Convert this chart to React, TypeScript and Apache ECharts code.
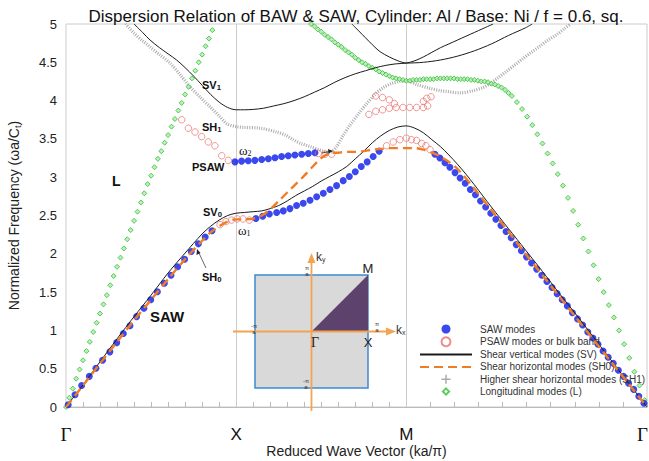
import React, { useEffect, useRef } from 'react';
import * as echarts from 'echarts';

const SQ2 = Math.SQRT2;
const K_END = 2 + SQ2;
const SANS = 'Liberation Sans, Arial, Helvetica, sans-serif';
const SERIF = 'Liberation Serif, DejaVu Serif, Times New Roman, serif';

// high-symmetry points along the path Γ-X-M-Γ
const pathLabels = ['Γ', 'X', 'M', 'Γ'];
const pathPositions = [0, 1, 2, K_END];
const tickPositions: number[] = [];
for (let i = 0; i <= 10; i++) tickPositions.push(i / 10);
for (let i = 1; i <= 10; i++) tickPositions.push(1 + i / 10);
for (let i = 1; i <= 10; i++) tickPositions.push(2 + (i * SQ2) / 10);

// ---- SAW modes (blue dots) ----
const sawLow: [number, number][] = [
  [0.013, 0.03], [0.053, 0.16], [0.092, 0.28], [0.137, 0.4], [0.176, 0.505], [0.215, 0.61],
  [0.258, 0.72], [0.298, 0.84], [0.337, 0.96], [0.376, 1.06], [0.415, 1.18], [0.458, 1.29],
  [0.498, 1.4], [0.537, 1.505], [0.578, 1.615], [0.617, 1.72], [0.656, 1.83], [0.697, 1.93],
  [0.736, 2.03], [0.778, 2.13], [0.818, 2.22], [0.858, 2.3],
];
const sawXM: [number, number][] = [
  [1.116, 2.46], [1.156, 2.49], [1.195, 2.52], [1.238, 2.54], [1.277, 2.56], [1.316, 2.59],
  [1.355, 2.63], [1.394, 2.66], [1.434, 2.7], [1.473, 2.745], [1.512, 2.79], [1.551, 2.84],
  [1.59, 2.89], [1.629, 2.955], [1.665, 3.01], [1.7, 3.07], [1.735, 3.14], [1.77, 3.2],
  [1.805, 3.27], [1.84, 3.34],
];
const sawOmega2: [number, number][] = [
  [0.993, 3.2], [1.032, 3.21], [1.071, 3.215], [1.11, 3.22], [1.15, 3.23], [1.189, 3.24],
  [1.228, 3.255], [1.267, 3.27], [1.306, 3.28], [1.345, 3.29], [1.385, 3.3], [1.424, 3.31],
  [1.463, 3.32],
];
const sawMG: [number, number][] = [
  [2.168, 3.3], [2.197, 3.25], [2.227, 3.19], [2.256, 3.13], [2.286, 3.06], [2.316, 2.99],
  [2.346, 2.92], [2.376, 2.84], [2.406, 2.77], [2.436, 2.69], [2.466, 2.61], [2.496, 2.53],
  [2.526, 2.45], [2.556, 2.37], [2.586, 2.29], [2.616, 2.21], [2.646, 2.12], [2.676, 2.04],
  [2.706, 1.96], [2.736, 1.88], [2.766, 1.8], [2.796, 1.72], [2.826, 1.64], [2.856, 1.56],
  [2.886, 1.48], [2.916, 1.4], [2.946, 1.32], [2.976, 1.23], [3.006, 1.15], [3.036, 1.07],
  [3.066, 0.98], [3.096, 0.9], [3.126, 0.82], [3.156, 0.73], [3.186, 0.65], [3.216, 0.57],
  [3.246, 0.48], [3.276, 0.4], [3.306, 0.31], [3.336, 0.23], [3.366, 0.14], [3.396, 0.05],
];

// ---- PSAW modes or bulk band (red rings) ----
const psawNearX: [number, number][] = [
  [0.905, 2.38], [0.94, 2.42], [0.973, 2.44], [1.006, 2.455], [1.04, 2.455], [1.077, 2.44],
];
const psawUpperLeft: [number, number][] = [
  [0.68, 3.75], [0.719, 3.64], [0.758, 3.59], [0.797, 3.53], [0.836, 3.46], [0.875, 3.41],
  [0.915, 3.28], [0.954, 3.22],
];
const psawOmega2End: [number, number][] = [[1.483, 3.31], [1.522, 3.3], [1.561, 3.3]];
const psawNearM: [number, number][] = [
  [1.884, 3.41], [1.923, 3.46], [1.962, 3.49], [2.0, 3.51], [2.03, 3.49], [2.06, 3.48],
  [2.09, 3.44], [2.115, 3.41], [2.139, 3.36],
];
const psawUpperM: [number, number][] = [
  [1.78, 3.82], [1.82, 3.86], [1.86, 3.88], [1.9, 3.9], [1.94, 3.91], [1.98, 3.91],
  [2.02, 3.91], [2.06, 3.91], [2.1, 3.91], [2.125, 3.93], [1.82, 4.06], [1.86, 4.04],
  [1.9, 4.01], [1.93, 3.96], [2.1, 3.99], [2.12, 4.03], [2.145, 4.05],
];

// ---- Shear vertical modes (black lines) ----
const sv0: [number, number][] = [
  [0, 0], [0.1, 0.29], [0.2, 0.59], [0.3, 0.89], [0.4, 1.18], [0.5, 1.46], [0.6, 1.75],
  [0.7, 2.01], [0.8, 2.26], [0.85, 2.36], [0.9, 2.44], [0.95, 2.5], [1.0, 2.53], [1.05, 2.54],
  [1.1, 2.55], [1.15, 2.56], [1.2, 2.59], [1.25, 2.63], [1.3, 2.69], [1.35, 2.76], [1.4, 2.82],
  [1.45, 2.88], [1.5, 2.95], [1.55, 3.01], [1.6, 3.07], [1.65, 3.14], [1.7, 3.24], [1.75, 3.34],
  [1.8, 3.45], [1.85, 3.54], [1.9, 3.61], [1.95, 3.655], [2.0, 3.67], [2.05, 3.64], [2.1, 3.58],
  [2.15, 3.49], [2.2, 3.4], [2.25, 3.29], [2.3, 3.17], [2.35, 3.04], [2.4, 2.9], [2.5, 2.61],
  [2.6, 2.33], [2.7, 2.05], [2.8, 1.77], [2.9, 1.48], [3.0, 1.2], [3.1, 0.91], [3.2, 0.62],
  [3.3, 0.33], [K_END, 0],
];
const sv1: [number, number][] = [
  [0.4, 5.0], [0.45, 4.89], [0.494, 4.79], [0.55, 4.69], [0.6, 4.61], [0.65, 4.53], [0.7, 4.43],
  [0.75, 4.32], [0.8, 4.2], [0.85, 4.08], [0.9, 3.98], [0.95, 3.91], [1.0, 3.88], [1.05, 3.88],
  [1.1, 3.885], [1.16, 3.9], [1.22, 3.93], [1.28, 3.96], [1.34, 4.0], [1.4, 4.05], [1.46, 4.11],
  [1.52, 4.17], [1.58, 4.24], [1.64, 4.3], [1.7, 4.35], [1.76, 4.39], [1.82, 4.43], [1.88, 4.46],
  [1.94, 4.48], [2.0, 4.49], [2.05, 4.52], [2.1, 4.57], [2.15, 4.63], [2.2, 4.69], [2.25, 4.74],
  [2.3, 4.79], [2.35, 4.84], [2.4, 4.89], [2.45, 4.94], [2.51, 5.0],
];
const sv2: [number, number][] = [
  [1.68, 5.0], [1.72, 4.91], [1.76, 4.82], [1.8, 4.73], [1.845, 4.64], [1.9, 4.57], [1.95, 4.52],
  [2.0, 4.49], [2.1, 4.5], [2.2, 4.53], [2.3, 4.58], [2.4, 4.65], [2.5, 4.74], [2.6, 4.85],
  [2.7, 4.95], [2.74, 5.0],
];

// ---- Shear horizontal modes SH0 (orange dashed) ----
const sh0: [number, number][] = [
  [0, 0], [0.1, 0.28], [0.2, 0.57], [0.3, 0.85], [0.4, 1.13], [0.5, 1.4], [0.6, 1.67], [0.7, 1.93],
  [0.8, 2.17], [0.85, 2.28], [0.9, 2.36], [0.95, 2.42], [1.0, 2.45], [1.05, 2.45], [1.1, 2.46],
  [1.15, 2.5], [1.2, 2.58], [1.25, 2.69], [1.3, 2.8], [1.35, 2.91], [1.4, 3.02], [1.45, 3.14],
  [1.5, 3.25], [1.55, 3.31], [1.6, 3.32], [1.65, 3.33], [1.7, 3.33], [1.75, 3.34], [1.8, 3.36],
  [1.85, 3.37], [1.9, 3.38], [1.95, 3.38], [2.0, 3.38], [2.05, 3.38], [2.1, 3.36], [2.15, 3.32],
  [2.2, 3.27], [2.25, 3.2], [2.3, 3.11], [2.4, 2.85], [2.5, 2.57], [2.6, 2.29], [2.7, 2.0],
  [2.8, 1.72], [2.9, 1.44], [3.0, 1.16], [3.1, 0.88], [3.2, 0.6], [3.3, 0.32], [K_END, 0],
];

// ---- Higher shear horizontal modes SH1 (grey crosses) ----
const sh1: [number, number][] = [
  [0.35, 5.0], [0.4, 4.88], [0.45, 4.78], [0.494, 4.7], [0.55, 4.6], [0.611, 4.49], [0.67, 4.34],
  [0.729, 4.18], [0.79, 4.04], [0.846, 3.92], [0.9, 3.8], [0.944, 3.7], [1.0, 3.66], [1.042, 3.65],
  [1.14, 3.64], [1.238, 3.59], [1.29, 3.55], [1.335, 3.49], [1.38, 3.44], [1.434, 3.4],
  [1.512, 3.34], [1.551, 3.32], [1.59, 3.4], [1.63, 3.55], [1.669, 3.68], [1.72, 3.83],
  [1.767, 3.96], [1.82, 4.09], [1.864, 4.17], [1.91, 4.22], [1.96, 4.25], [2.0, 4.26],
  [2.06, 4.21], [2.139, 4.16], [2.197, 4.13], [2.236, 4.12], [2.315, 4.1], [2.393, 4.13],
  [2.45, 4.17], [2.49, 4.22], [2.54, 4.3], [2.588, 4.38], [2.64, 4.47], [2.686, 4.55],
  [2.735, 4.63], [2.784, 4.71], [2.833, 4.79], [2.883, 4.86], [2.93, 4.94], [2.96, 4.99],
];

// ---- Longitudinal modes L (green diamonds) ----
const lLeft: [number, number][] = [
  [0.0, 0.0], [0.02, 0.12], [0.04, 0.24], [0.06, 0.37], [0.08, 0.49], [0.1, 0.61], [0.12, 0.73],
  [0.14, 0.85], [0.16, 0.98], [0.18, 1.1], [0.2, 1.22], [0.22, 1.34], [0.24, 1.46], [0.26, 1.59],
  [0.28, 1.71], [0.3, 1.83], [0.32, 1.95], [0.34, 2.07], [0.36, 2.19], [0.38, 2.31], [0.4, 2.43],
  [0.42, 2.55], [0.44, 2.67], [0.46, 2.79], [0.48, 2.91], [0.5, 3.02], [0.52, 3.13], [0.54, 3.24],
  [0.56, 3.34], [0.58, 3.45], [0.6, 3.55], [0.62, 3.66], [0.64, 3.76], [0.66, 3.87], [0.68, 3.97],
  [0.7, 4.08], [0.72, 4.18], [0.74, 4.29], [0.76, 4.39], [0.78, 4.5], [0.8, 4.6], [0.82, 4.71],
  [0.84, 4.81], [0.86, 4.92],
];
const lRight: [number, number][] = [
  [1.44, 5.0], [1.46, 4.97], [1.48, 4.93], [1.5, 4.9], [1.52, 4.86], [1.54, 4.83], [1.56, 4.8],
  [1.58, 4.76], [1.6, 4.73], [1.62, 4.7], [1.64, 4.66], [1.66, 4.63], [1.68, 4.6], [1.7, 4.56],
  [1.72, 4.53], [1.74, 4.5], [1.76, 4.48], [1.78, 4.45], [1.8, 4.43], [1.82, 4.41], [1.84, 4.38],
  [1.86, 4.36], [1.88, 4.34], [1.9, 4.32], [1.92, 4.3], [1.94, 4.29], [1.96, 4.28], [1.98, 4.27],
  [2.0, 4.26], [2.02, 4.26], [2.04, 4.27], [2.06, 4.27], [2.08, 4.27], [2.1, 4.28], [2.12, 4.28],
  [2.14, 4.28], [2.16, 4.28], [2.18, 4.29], [2.2, 4.29], [2.22, 4.29], [2.24, 4.29], [2.26, 4.29],
  [2.28, 4.29], [2.3, 4.28], [2.32, 4.28], [2.34, 4.28], [2.36, 4.28], [2.38, 4.27], [2.4, 4.27],
  [2.42, 4.26], [2.44, 4.25], [2.46, 4.25], [2.48, 4.24], [2.5, 4.22], [2.52, 4.21], [2.54, 4.19],
  [2.56, 4.17], [2.58, 4.14], [2.6, 4.1], [2.62, 4.06], [2.65, 3.98], [2.68, 3.89], [2.71, 3.79],
  [2.74, 3.68], [2.77, 3.56], [2.8, 3.44], [2.83, 3.31], [2.86, 3.18], [2.89, 3.04], [2.92, 2.89],
  [2.95, 2.73], [2.98, 2.56], [3.01, 2.38], [3.04, 2.2], [3.07, 2.03], [3.1, 1.85], [3.13, 1.67],
  [3.16, 1.5], [3.19, 1.33], [3.22, 1.17], [3.25, 1.0], [3.28, 0.82], [3.31, 0.64], [3.34, 0.46],
  [3.37, 0.28], [3.4, 0.09],
];

const NAME_SAW = 'SAW modes';
const NAME_PSAW = 'PSAW modes or bulk band';
const NAME_SV = 'Shear vertical modes (SV)';
const NAME_SH0 = 'Shear horizontal modes (SH0)';
const NAME_SH1 = 'Higher shear horizontal modes (SH1)';
const NAME_L = 'Longitudinal modes (L)';

const PLUS = 'path://M4.2,0L5.8,0L5.8,4.2L10,4.2L10,5.8L5.8,5.8L5.8,10L4.2,10L4.2,5.8L0,5.8L0,4.2L4.2,4.2Z';
const HOLLOW_DIAMOND = 'path://M5,0L10,5L5,10L0,5Z M5,3L3,5L5,7L7,5Z';

const C_BLUE = '#0a1ae8';
const C_RED = '#e8706e';
const C_ORANGE = '#f07c24';
const C_GREEN = '#33c033';
const C_GREY = '#ababab';
const C_AXIS_ORANGE = '#f4a450';

function label(x: number, y: number, main: string, sub: string, size = 11) {
  return {
    type: 'text',
    x,
    y,
    z: 50,
    style: {
      text: sub ? `{m|${main}}{s|${sub}}` : `{m|${main}}`,
      verticalAlign: 'middle',
      rich: {
        m: { fontFamily: SANS, fontWeight: 'bold', fontSize: size, fill: '#111' },
        s: { fontFamily: SANS, fontWeight: 'bold', fontSize: size * 0.7, fill: '#111', padding: [size * 0.5, 0, 0, 0] },
      },
    },
  };
}
function omega(x: number, y: number, sub: string) {
  return {
    type: 'text',
    x,
    y,
    z: 50,
    style: {
      text: `{m|ω}{s|${sub}}`,
      verticalAlign: 'middle',
      rich: {
        m: { fontFamily: SERIF, fontSize: 13, fill: '#111' },
        s: { fontFamily: SERIF, fontSize: 8, fill: '#111', padding: [6, 0, 0, 0] },
      },
    },
  };
}
function piOverA(x: number, y: number, neg: boolean) {
  return {
    type: 'text',
    x,
    y,
    z: 60,
    style: {
      text: `${neg ? '-' : ''}π\na`,
      fontFamily: SANS,
      fontSize: 6,
      lineHeight: 6,
      fill: '#333',
      align: 'center',
      verticalAlign: 'middle',
    },
  };
}

function buildOption() {
  const inset = [
    { type: 'rect', z: 40, shape: { x: 255, y: 275, width: 113, height: 113 }, style: { fill: '#d9d9d9', stroke: '#3d8ad0', lineWidth: 1.5 } },
    { type: 'polygon', z: 41, shape: { points: [[311.5, 331.5], [368, 331.5], [368, 275]] }, style: { fill: '#5e426e' } },
    { type: 'line', z: 42, shape: { x1: 233, y1: 331.5, x2: 387, y2: 331.5 }, style: { stroke: C_AXIS_ORANGE, lineWidth: 1.8 } },
    { type: 'polygon', z: 42, shape: { points: [[396, 331.5], [386, 327.5], [386, 335.5]] }, style: { fill: C_AXIS_ORANGE } },
    { type: 'line', z: 42, shape: { x1: 311.5, y1: 411, x2: 311.5, y2: 262 }, style: { stroke: C_AXIS_ORANGE, lineWidth: 1.8 } },
    { type: 'polygon', z: 42, shape: { points: [[311.5, 253], [307.5, 263], [315.5, 263]] }, style: { fill: C_AXIS_ORANGE } },
    {
      type: 'text', x: 316, y: 257, z: 60,
      style: { text: '{m|k}{s|y}', verticalAlign: 'middle', rich: { m: { fontFamily: SANS, fontSize: 12, fill: '#333' }, s: { fontFamily: SANS, fontSize: 7, fill: '#333', padding: [5, 0, 0, 0] } } },
    },
    {
      type: 'text', x: 396, y: 330, z: 60,
      style: { text: '{m|k}{s|x}', verticalAlign: 'middle', rich: { m: { fontFamily: SANS, fontSize: 12, fill: '#333' }, s: { fontFamily: SANS, fontSize: 7, fill: '#333', padding: [5, 0, 0, 0] } } },
    },
    { type: 'text', x: 368, y: 268, z: 60, style: { text: 'M', fontFamily: SANS, fontSize: 13, fill: '#222', align: 'center', verticalAlign: 'middle' } },
    { type: 'text', x: 368, y: 342, z: 60, style: { text: 'X', fontFamily: SANS, fontSize: 13, fill: '#222', align: 'center', verticalAlign: 'middle' } },
    { type: 'text', x: 315, y: 342, z: 60, style: { text: 'Γ', fontFamily: SERIF, fontSize: 14, fill: '#222', align: 'center', verticalAlign: 'middle' } },
    piOverA(307, 271, false),
    piOverA(377, 327, false),
    piOverA(254, 329, true),
    piOverA(306, 384, true),
  ];
  const notes = [
    label(202, 85, 'SV', '1'),
    label(202, 127, 'SH', '1'),
    label(192, 167, 'PSAW', ''),
    omega(239, 150, '2'),
    label(203, 212, 'SV', '0'),
    omega(238, 230, '1'),
    label(202, 277, 'SH', '0'),
    label(150, 316, 'SAW', '', 15),
    label(112, 181, 'L', '', 14),
    { type: 'line', z: 50, shape: { x1: 206, y1: 268, x2: 198, y2: 251 }, style: { stroke: '#444', lineWidth: 0.8 } },
    { type: 'polygon', z: 50, shape: { points: [[197, 249], [196.5, 255], [200.5, 253]] }, style: { fill: '#222' } },
    { type: 'line', z: 50, shape: { x1: 322, y1: 153, x2: 330, y2: 151.5 }, style: { stroke: '#222', lineWidth: 0.8 } },
    { type: 'polygon', z: 50, shape: { points: [[333, 151], [328, 149], [328.5, 153.5]] }, style: { fill: '#222' } },
  ];

  const lineBase = { type: 'line', symbol: 'none', smooth: 0.3, animation: false, z: 5 };
  const noSymbolInLegend = { opacity: 0 };

  return {
    animation: false,
    backgroundColor: '#ffffff',
    title: {
      text: 'Dispersion Relation of BAW & SAW, Cylinder: Al / Base: Ni / f = 0.6, sq.',
      left: 351,
      textAlign: 'center',
      top: 3,
      textStyle: { fontFamily: SANS, fontSize: 17, fontWeight: 'normal', color: '#111' },
    },
    grid: {
      left: 66, right: 2, top: 24, bottom: 54,
      outerBoundsMode: 'none', containLabel: false,
      show: true, borderColor: '#cccccc', borderWidth: 1, backgroundColor: 'transparent',
    },
    legend: {
      left: 414,
      top: 319,
      orient: 'vertical',
      itemWidth: 52,
      itemHeight: 9,
      itemGap: 2.3,
      selectedMode: false,
      textStyle: { fontFamily: SANS, fontSize: 10, color: '#333', padding: [0, 0, 0, 3] },
      data: [
        { name: NAME_SAW },
        { name: NAME_PSAW },
        { name: NAME_SV, itemStyle: noSymbolInLegend },
        { name: NAME_SH0, itemStyle: noSymbolInLegend },
        { name: NAME_SH1, icon: PLUS, itemStyle: { color: '#aaaaaa', borderWidth: 0 } },
        { name: NAME_L, icon: HOLLOW_DIAMOND, itemStyle: { color: C_GREEN, borderWidth: 0 } },
      ],
    },
    xAxis: {
      type: 'value',
      min: 0,
      max: K_END,
      name: 'Reduced Wave Vector (ka/π)',
      nameLocation: 'middle',
      nameGap: 37,
      nameMoveOverlap: false,
      nameTextStyle: { fontFamily: SANS, fontSize: 14, color: '#222', lineHeight: 14 },
      axisLine: { show: true, lineStyle: { color: '#bbbbbb' } },
      axisTick: { show: true, inside: true, length: 5, customValues: tickPositions, lineStyle: { color: '#bbbbbb' } },
      axisLabel: {
        show: true,
        margin: 19,
        customValues: pathPositions,
        formatter: (v: number) => {
          const i = pathPositions.findIndex((p) => Math.abs(p - v) < 1e-6);
          const t = i >= 0 ? pathLabels[i] : '';
          if (i === pathLabels.length - 1) return `{ge|${t}}`;
          return t === 'Γ' ? `{g|${t}}` : `{s|${t}}`;
        },
        rich: {
          g: { fontFamily: SERIF, fontSize: 19, lineHeight: 16, color: '#111' },
          ge: { fontFamily: SERIF, fontSize: 19, lineHeight: 16, color: '#111', padding: [0, 9, 0, 0] },
          s: { fontFamily: SANS, fontSize: 17, lineHeight: 16, color: '#111' },
        },
      },
      splitLine: { show: false },
    },
    yAxis: {
      type: 'value',
      min: 0,
      max: 5,
      interval: 0.5,
      name: '{m|Normalized Frequency (ωa/C}{s|t}{m|)}',
      nameLocation: 'middle',
      nameGap: 44,
      nameMoveOverlap: false,
      nameRotate: 90,
      nameTextStyle: {
        rich: {
          m: { fontFamily: SANS, fontSize: 14, color: '#222' },
          s: { fontFamily: SANS, fontSize: 9, color: '#222', padding: [7, 0, 0, 0] },
        },
      },
      axisLine: { show: false },
      axisTick: { show: false },
      axisLabel: { fontFamily: SANS, fontSize: 13, color: '#222', margin: 9 },
      splitLine: { show: false },
    },
    graphic: [...inset, ...notes],
    series: [
      {
        name: NAME_SAW,
        type: 'scatter',
        symbol: 'circle',
        symbolSize: 7,
        itemStyle: { color: C_BLUE },
        z: 3,
        data: [...sawLow, ...sawXM, ...sawOmega2, ...sawMG],
      },
      {
        name: NAME_PSAW,
        type: 'scatter',
        symbol: 'circle',
        symbolSize: 6.5,
        itemStyle: { color: 'rgba(255,255,255,0)', borderColor: C_RED, borderWidth: 0.9 },
        z: 3,
        data: [...psawNearX, ...psawUpperLeft, ...psawOmega2End, ...psawNearM, ...psawUpperM],
      },
      {
        name: NAME_L,
        type: 'scatter',
        symbol: 'diamond',
        symbolSize: 5,
        itemStyle: { color: '#aee8ae', borderColor: C_GREEN, borderWidth: 1 },
        z: 2,
        data: [...lLeft, ...lRight],
      },
      {
        ...lineBase,
        name: NAME_SH1,
        z: 2,
        itemStyle: { color: C_GREY },
        lineStyle: { color: C_GREY, width: 3.2, type: [1, 1.4] },
        data: sh1,
      },
      {
        ...lineBase,
        name: NAME_SV,
        itemStyle: { color: '#1a1a1a' },
        lineStyle: { color: '#1a1a1a', width: 1 },
        data: sv0,
        markLine: {
          silent: true,
          symbol: 'none',
          label: { show: false },
          lineStyle: { color: '#cccccc', width: 1, type: 'solid' },
          data: [{ xAxis: 1 }, { xAxis: 2 }],
          z: 1,
        },
      },
      { ...lineBase, name: NAME_SV, itemStyle: { color: '#1a1a1a' }, lineStyle: { color: '#1a1a1a', width: 1 }, data: sv1 },
      { ...lineBase, name: NAME_SV, itemStyle: { color: '#1a1a1a' }, lineStyle: { color: '#1a1a1a', width: 1 }, data: sv2 },
      {
        ...lineBase,
        name: NAME_SH0,
        z: 6,
        itemStyle: { color: C_ORANGE },
        lineStyle: { color: C_ORANGE, width: 2.4, type: [9, 5] },
        data: sh0,
      },
    ],
  };
}

export default function App() {
  const ref = useRef<HTMLDivElement>(null);
  useEffect(() => {
    if (!ref.current) return;
    const chart = echarts.init(ref.current, null, { renderer: 'svg' });
    chart.setOption(buildOption() as any);
    return () => chart.dispose();
  }, []);
  return <div ref={ref} style={{ position: 'fixed', left: 0, top: 0, width: 649, height: 461 }} />;
}
